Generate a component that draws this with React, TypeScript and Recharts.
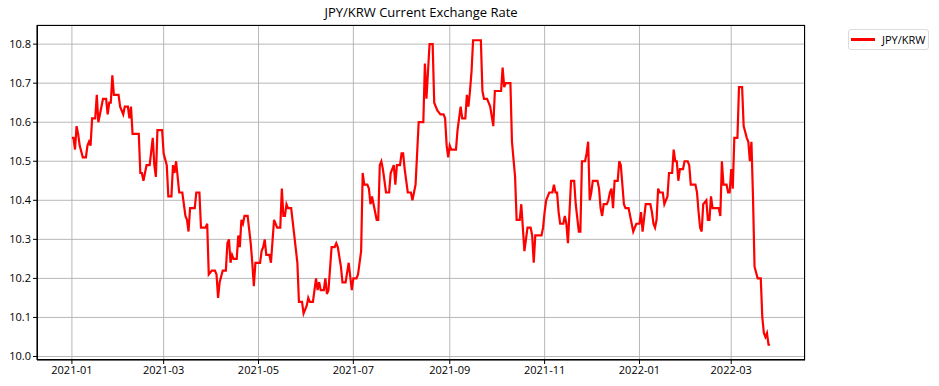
import { LineChart, Line, XAxis, YAxis, CartesianGrid } from "recharts";

// days since 2021-01-01 and the JPY/KRW rate read for that day
const dayOffsets = [
  0, 1, 2, 3, 4, 5, 7, 9, 10, 11, 12, 13, 15, 16, 17, 18, 20, 22, 23, 24, 25, 26, 27, 30, 31, 33, 34, 36, 37, 38, 39,
  43, 44, 45, 46, 48, 50, 52, 53, 54, 55, 58, 59, 61, 62, 64, 65, 66, 67, 69, 71, 73, 74, 75, 76, 79, 80, 82, 83, 86,
  87, 88, 90, 92, 93, 94, 95, 97, 99, 100, 101, 102, 103, 104, 106, 107, 108, 109, 110, 111, 113, 115, 116, 117, 118,
  121, 122, 123, 124, 125, 127, 128, 130, 132, 134, 135, 136, 137, 138, 139, 141, 143, 145, 146, 148, 149, 151, 152,
  153, 155, 156, 157, 158, 159, 160, 162, 163, 164, 165, 167, 169, 170, 171, 173, 174, 176, 178, 180, 181, 183, 184,
  186, 187, 188, 190, 191, 192, 193, 194, 196, 197, 198, 199, 200, 202, 204, 205, 207, 208, 209, 211, 212, 213, 214,
  216, 218, 219, 221, 222, 223, 226, 227, 228, 230, 232, 233, 235, 237, 239, 240, 241, 242, 243, 244, 247, 248, 249,
  250, 251, 253, 254, 255, 256, 257, 258, 263, 264, 265, 267, 268, 269, 271, 272, 276, 277, 278, 279, 282, 283, 285,
  286, 288, 289, 290, 291, 293, 295, 296, 297, 298, 300, 302, 303, 304, 305, 306, 307, 309, 310, 311, 312, 313, 314,
  316, 317, 318, 319, 321, 323, 324, 326, 327, 328, 330, 331, 332, 333, 334, 335, 338, 339, 340, 341, 342, 344, 345,
  346, 347, 348, 349, 351, 352, 353, 355, 356, 358, 359, 361, 362, 363, 365, 366, 367, 369, 372, 373, 374, 375, 376,
  377, 378, 380, 381, 383, 384, 386, 387, 388, 389, 390, 391, 393, 394, 396, 397, 398, 401, 402, 403, 404, 405, 406,
  408, 409, 410, 411, 412, 416, 417, 418, 419, 421, 422, 423, 424, 425, 426, 428, 429, 431, 432, 434, 435, 436, 437,
  438, 439, 441, 443, 444, 445, 446, 447, 448, 449,
];

const rates = [
  10.56, 10.56, 10.53, 10.59, 10.57, 10.54, 10.51, 10.51, 10.54, 10.55, 10.54, 10.61, 10.61, 10.67, 10.6, 10.62, 10.66,
  10.66, 10.62, 10.65, 10.65, 10.72, 10.67, 10.67, 10.64, 10.62, 10.64, 10.64, 10.61, 10.64, 10.57,
  10.57, 10.47, 10.47, 10.45, 10.49, 10.49, 10.56, 10.49, 10.46, 10.58, 10.58, 10.52, 10.49, 10.41, 10.41, 10.49, 10.47,
  10.5, 10.42, 10.42, 10.36, 10.35, 10.32, 10.38, 10.38, 10.42, 10.42, 10.33, 10.33,
  10.34, 10.21, 10.22, 10.22, 10.21, 10.15, 10.19, 10.22, 10.22, 10.29, 10.3, 10.24, 10.26, 10.25, 10.25, 10.31, 10.28,
  10.35, 10.34, 10.36, 10.36, 10.29, 10.24, 10.18, 10.24,
  10.24, 10.27, 10.28, 10.3, 10.26, 10.26, 10.24, 10.35, 10.33, 10.33, 10.43, 10.36, 10.36, 10.39, 10.38, 10.38, 10.31,
  10.24, 10.14, 10.14, 10.11, 10.13, 10.15,
  10.14, 10.14, 10.17, 10.2, 10.17, 10.19, 10.17, 10.17, 10.2, 10.16, 10.17, 10.28, 10.28, 10.29, 10.28, 10.23, 10.19,
  10.19, 10.24, 10.17, 10.2, 10.2, 10.21,
  10.27, 10.47, 10.44, 10.44, 10.43, 10.39, 10.41, 10.39, 10.35, 10.35, 10.49, 10.5, 10.48, 10.42, 10.42, 10.47, 10.49,
  10.44, 10.49, 10.49, 10.52, 10.52, 10.48,
  10.42, 10.42, 10.4, 10.44, 10.52, 10.6, 10.6, 10.75, 10.66, 10.8, 10.8, 10.65, 10.63, 10.62, 10.62, 10.61, 10.54,
  10.51, 10.54, 10.53, 10.53, 10.58, 10.61,
  10.64, 10.61, 10.61, 10.67, 10.64, 10.68, 10.73, 10.81, 10.81, 10.68, 10.66, 10.66, 10.65, 10.64, 10.59, 10.68, 10.68,
  10.74, 10.69, 10.7, 10.7, 10.55, 10.46,
  10.35, 10.35, 10.39, 10.33, 10.27, 10.33, 10.33, 10.31, 10.24, 10.31, 10.31, 10.31, 10.33, 10.37, 10.4, 10.41, 10.42,
  10.42, 10.44, 10.42, 10.42, 10.37, 10.34,
  10.34, 10.36, 10.34, 10.29, 10.45, 10.45, 10.39, 10.32, 10.32, 10.5, 10.5, 10.52, 10.55, 10.4, 10.42, 10.45, 10.45,
  10.43, 10.38, 10.36, 10.39, 10.39, 10.4,
  10.42, 10.43, 10.38, 10.45, 10.45, 10.5, 10.49, 10.39, 10.38, 10.38, 10.36, 10.32, 10.33, 10.34, 10.34, 10.37, 10.32,
  10.39, 10.39, 10.37, 10.34, 10.33, 10.35,
  10.43, 10.42, 10.42, 10.39, 10.41, 10.47, 10.47, 10.53, 10.5, 10.5, 10.45, 10.48, 10.48, 10.5, 10.5, 10.49, 10.44,
  10.44, 10.42, 10.37, 10.33, 10.32, 10.39,
  10.4, 10.35, 10.35, 10.41, 10.38, 10.38, 10.36, 10.5, 10.44, 10.44, 10.42, 10.42, 10.48, 10.43, 10.56, 10.56, 10.69,
  10.69, 10.59, 10.56, 10.55, 10.5, 10.55,
  10.41, 10.23, 10.2, 10.2, 10.1, 10.06, 10.05, 10.06, 10.03, 10.03,
];

const xTickLabels = ["2021-01", "2021-03", "2021-05", "2021-07", "2021-09", "2021-11", "2022-01", "2022-03"];
const yTicks = [10.0, 10.1, 10.2, 10.3, 10.4, 10.5, 10.6, 10.7, 10.8];

const DAY = 86400000;
const START = Date.UTC(2021, 0, 1);

const data = dayOffsets.map((d, i) => ({ t: START + d * DAY, rate: rates[i] }));

const xTicks = xTickLabels.map((s) => {
  const [y, m] = s.split("-").map(Number);
  return Date.UTC(y, m - 1, 1);
});

const fmtMonth = (v: number) => new Date(v).toISOString().slice(0, 7);

const FONT = "'Open Sans', 'DejaVu Sans', sans-serif";

export default function App() {
  return (
    <div style={{ position: "absolute", left: 0, top: 0, width: 939, height: 386, background: "#fff", fontFamily: FONT }}>
      <div
        style={{
          position: "absolute",
          left: 37,
          width: 768,
          top: 3,
          textAlign: "center",
          fontSize: 13,
          color: "#000",
        }}
      >
        JPY/KRW Current Exchange Rate
      </div>
      <LineChart width={939} height={386} data={data} margin={{ top: 25, right: 134, bottom: 0, left: 0 }}>
        <CartesianGrid stroke="#b0b0b0" strokeWidth={0.9} />
        <XAxis
          dataKey="t"
          type="number"
          scale="time"
          domain={[START - 22.45 * DAY, START + 471.45 * DAY]}
          ticks={xTicks}
          tickFormatter={fmtMonth}
          height={26}
          axisLine={{ stroke: "#000" }}
          tickLine={{ stroke: "#000" }}
          tickSize={4}
          tick={{ fill: "#000", fontSize: 11, fontFamily: FONT }}
          allowDataOverflow
        />
        <YAxis
          type="number"
          domain={[9.991, 10.849]}
          ticks={yTicks}
          tickFormatter={(v: number) => v.toFixed(1)}
          width={37}
          axisLine={{ stroke: "#000" }}
          tickLine={{ stroke: "#000" }}
          tickSize={4}
          tick={{ fill: "#000", fontSize: 11, fontFamily: FONT }}
          allowDataOverflow
        />
        <Line
          dataKey="rate"
          name="JPY/KRW"
          type="linear"
          stroke="#ff0000"
          strokeWidth={2.2}
          dot={false}
          isAnimationActive={false}
        />
      </LineChart>
      {/* axes frame */}
      <div
        style={{
          position: "absolute",
          left: 37,
          top: 25,
          width: 768,
          height: 335,
          boxSizing: "border-box",
          border: "1px solid #000",
          pointerEvents: "none",
        }}
      />
      {/* legend */}
      <div
        style={{
          position: "absolute",
          left: 848,
          top: 29,
          width: 81,
          height: 21,
          boxSizing: "border-box",
          border: "1px solid #dcdcdc",
          borderRadius: 3,
          display: "flex",
          alignItems: "center",
          fontSize: 11,
          color: "#000",
        }}
      >
        <span style={{ display: "inline-block", width: 24, height: 2.2, background: "#ff0000", marginLeft: 2, marginRight: 7 }} />
        JPY/KRW
      </div>
    </div>
  );
}
